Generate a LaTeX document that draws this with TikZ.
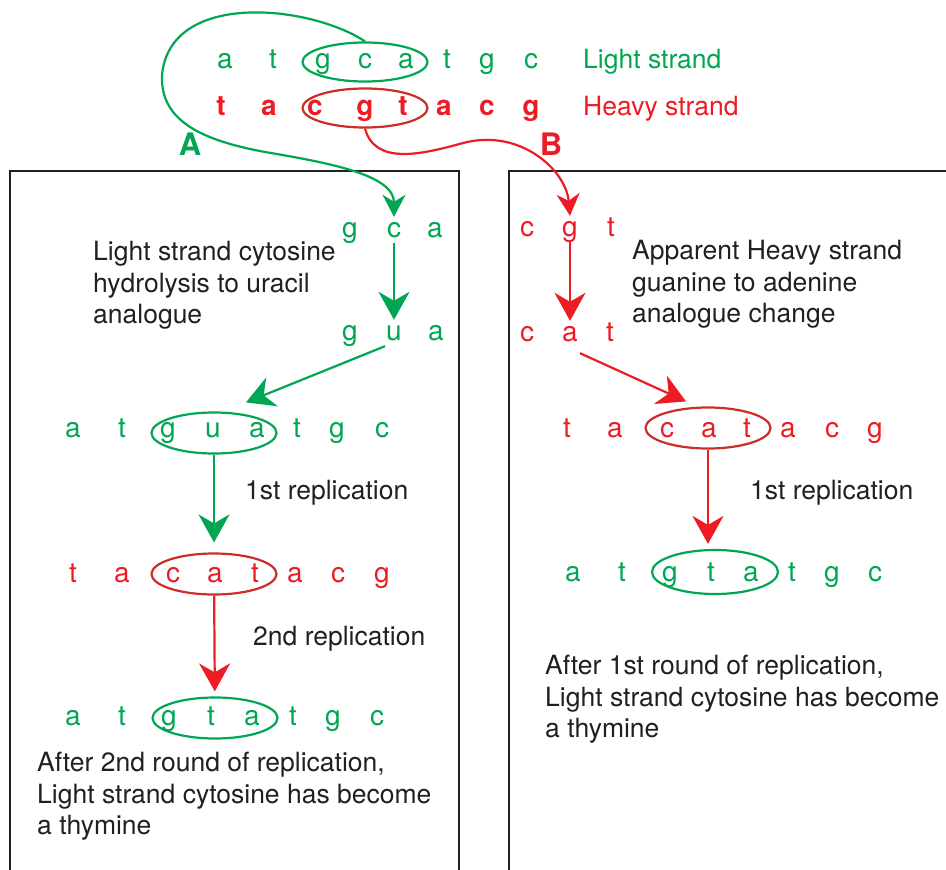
\documentclass[tikz,border=0pt]{standalone}
\usepackage{fontspec}
\setmainfont{TeX Gyre Heros}
\usetikzlibrary{arrows.meta,shapes.geometric}

\definecolor{lightgreen}{RGB}{0,166,81}
\definecolor{heavyred}{RGB}{237,28,36}
\definecolor{ringred}{RGB}{204,45,40}
\definecolor{ink}{RGB}{35,31,32}

\begin{document}
\begin{tikzpicture}[
        x=1pt, y=-1pt,
        nuc/.style = {anchor=base, inner sep=6pt, text height=14pt, text depth=0pt, font=\fontsize{28}{32}\selectfont},
        lnuc/.style = {nuc, text=lightgreen},
        hnuc/.style = {nuc, text=heavyred},
        ring/.style = {ellipse, draw, line width=2.2pt, inner sep=0pt, minimum width=125pt, minimum height=41pt},
        note/.style = {anchor=north west, align=left, inner sep=0pt, text=ink, font=\fontsize{26.5}{31.5}\selectfont},
        push/.style = {-{Stealth[length=28pt, width=31pt, inset=9pt]}, line width=2.2pt},
        swing/.style = {-{Stealth[length=22pt, width=23pt, inset=7pt]}, line width=2.2pt},
        frame/.style = {draw=ink, line width=2.5pt},
        tag/.style = {anchor=base, inner sep=0pt, font=\fontsize{31}{31}\selectfont\bfseries}
    ]
    \useasboundingbox (0,0) rectangle (946,870);

    \draw[frame] (10,870) |- (459,171) -- (459,870);
    \draw[frame] (509,870) |- (946,171);

    % the two strands
    \foreach \x/\b [count=\i] in {225/a,273/t,323/g,365/c,406/a,447/t,487/g,531/c}
        \node[lnuc] (L\i) at (\x,68) {\b};
    \foreach \x/\b [count=\i] in {221/t,269/a,315/c,365/g,403/t,444/a,487/c,531/g}
        \node[hnuc, font=\fontsize{28}{32}\selectfont\bfseries] (H\i) at (\x,115) {\b};
    \node[ring, draw=lightgreen, minimum height=39pt] (ringL) at (365,62) {};
    \node[ring, draw=ringred, minimum height=39pt] (ringH) at (365,108) {};
    \node[note, anchor=base west, text=lightgreen] (lightname) at (583,68) {Light strand};
    \node[note, anchor=base west, text=heavyred] (heavyname) at (583,115) {Heavy strand};
    \node[tag, text=lightgreen] (labA) at (190,155) {A};
    \node[tag, text=heavyred] (labB) at (551,155) {B};

    % panel A
    \foreach \x/\b [count=\i] in {350/g,394/c,435/a}
        \node[lnuc] (Aa\i) at (\x,237) {\b};
    \foreach \x/\b [count=\i] in {350/g,394/u,436/a}
        \node[lnuc] (Ab\i) at (\x,340) {\b};
    \foreach \x/\b [count=\i] in {73/a,122/t,168/g,213/u,257/a,297/t,337/g,382/c}
        \node[lnuc] (Ac\i) at (\x,437) {\b};
    \foreach \x/\b [count=\i] in {73/t,122/a,173/c,215/a,255/t,295/a,338/c,382/g}
        \node[hnuc] (Ad\i) at (\x,582) {\b};
    \foreach \x/\b [count=\i] in {73/a,122/t,169/g,211/t,252/a,293/t,333/g,377/c}
        \node[lnuc] (Ae\i) at (\x,725) {\b};
    \node[ring, draw=lightgreen] (ringA1) at (214,433) {};
    \node[ring, draw=ringred] (ringA2) at (214,574) {};
    \node[ring, draw=lightgreen] (ringA3) at (215,718) {};

    \node[note] (hydro) at (93,241) {Light strand cytosine\\hydrolysis to uracil\\analogue};
    \node[note, anchor=base west] (repA1) at (245,499) {1st replication};
    \node[note, anchor=base west] (repA2) at (253,645) {2nd replication};
    \node[note] (resultA) at (37,752) {After 2nd round of replication,\\Light strand cytosine has become\\a thymine};

    % panel B
    \foreach \x/\b [count=\i] in {527/c,570/g,611/t}
        \node[hnuc] (Ba\i) at (\x,236) {\b};
    \foreach \x/\b [count=\i] in {527/c,570/a,610/t}
        \node[hnuc] (Bb\i) at (\x,341) {\b};
    \foreach \x/\b [count=\i] in {567/t,615/a,667/c,709/a,747/t,788/a,832/c,875/g}
        \node[hnuc] (Bc\i) at (\x,437) {\b};
    \foreach \x/\b [count=\i] in {573/a,622/t,670/g,711/t,751/a,792/t,832/g,875/c}
        \node[lnuc] (Bd\i) at (\x,581) {\b};
    \node[ring, draw=ringred] (ringB1) at (708,428) {};
    \node[ring, draw=lightgreen, minimum width=126pt, minimum height=44pt] (ringB2) at (715,572) {};

    \node[note] (shift) at (632,240) {Apparent Heavy strand\\guanine to adenine\\analogue change};
    \node[note, anchor=base west] (repB1) at (750,499) {1st replication};
    \node[note] (resultB) at (545,655) {After 1st round of replication,\\Light strand cytosine has become\\a thymine};

    % connectors
    \draw[swing, lightgreen] (ringL.north) .. controls (310,5) and (170,-10) .. (162,75)
        .. controls (160,120) and (200,140) .. (265,152)
        .. controls (330,163) and (394,175) .. (Aa2.north);
    \draw[swing, heavyred] (ringH.south) .. controls (375,165) and (420,155) .. (463,143)
        .. controls (520,128) and (566,170) .. (Ba2.north);

    \draw[push, lightgreen] (Aa2) -- (Ab2);
    \draw[push, lightgreen] ([shift={(-9,0)}]Ab2.south) -- ([shift={(32,-9)}]ringA1.north);
    \draw[push, lightgreen, shorten >=10pt] (ringA1) -- (ringA2);
    \draw[push, heavyred, shorten >=5pt] (ringA2) -- (ringA3);

    \draw[push, heavyred] (Ba2) -- (Bb2);
    \draw[push, heavyred] ([shift={(10,6)}]Bb2.south) -- ([shift={(-22,-5)}]ringB1.north);
    \draw[push, heavyred, shorten >=5pt] (ringB1.south) -- (ringB1.south |- ringB2.north);
\end{tikzpicture}
\end{document}
